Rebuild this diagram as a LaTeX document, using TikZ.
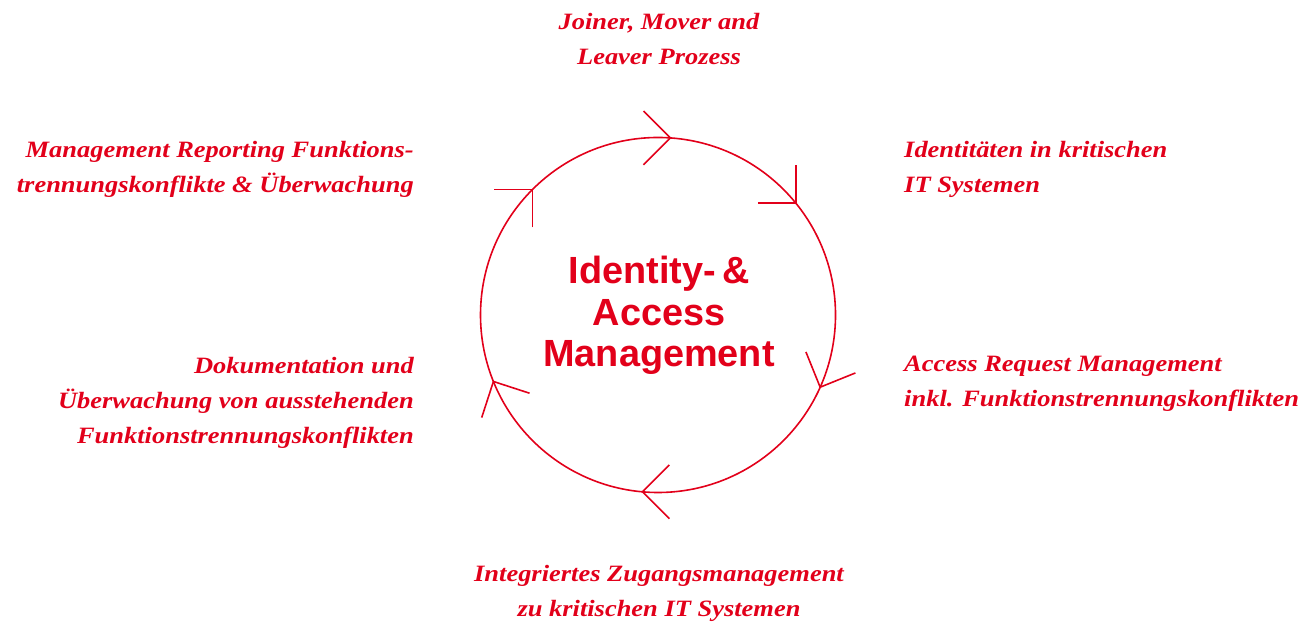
\documentclass[tikz,border=0pt]{standalone}
\usepackage{fontspec}
\setmainfont{Liberation Serif}
\newfontfamily\stepfont[FakeStretch=1.13]{Liberation Serif}
\newfontfamily\headfont{Liberation Sans}
\definecolor{brandred}{HTML}{E2001A}
\begin{document}
\begin{tikzpicture}[x=1bp,y=1bp,
  steplabel/.style={font=\stepfont\fontsize{23.5}{35.5}\selectfont\bfseries\itshape,
    text=brandred, inner sep=0pt},
  title/.style={font=\headfont\fontsize{38}{42}\selectfont\bfseries,
    text=brandred, inner sep=0pt, align=center},
  ringline/.style={draw=brandred, line width=1.6bp},
  chevron/.style={draw=brandred, line width=1.6bp, line join=miter}]
\useasboundingbox (0,0) rectangle (1303,624);

% cycle ring
\node[circle, ringline, minimum size=355bp, inner sep=0pt, outer sep=0pt]
  (ring) at (658,309) {};

% open chevrons on the ring, pointing clockwise
\foreach \tip/\back in {86/180, 39/135, -24/67, -95/0, 202/-63, 135/-135}{
  \draw[chevron] (ring.\tip) ++(\back+45:38) -- (ring.\tip) -- ++(\back-45:38);
}

% centre title (base = baseline of the last line)
\node[title, anchor=base] (core) at (659,257)
  {Identity-\,\&\\Access\\Management};

% process steps around the ring
\node[steplabel, anchor=base, align=center] (jml) at (659,559)
  {Joiner, Mover and\\Leaver Prozess};
\node[steplabel, anchor=base east, align=right] (report) at (414,431)
  {Management Reporting Funktions-\\trennungskonflikte \& Überwachung};
\node[steplabel, anchor=base west, align=left] (ident) at (904,431)
  {Identitäten in kritischen\\IT Systemen};
\node[steplabel, anchor=base east, align=right] (docu) at (414,180)
  {Dokumentation und\\Überwachung von ausstehenden\\Funktionstrennungskonflikten};
\node[steplabel, anchor=base west, align=left] (request) at (904,217)
  {Access Request Management\\inkl. Funktionstrennungskonflikten};
\node[steplabel, anchor=base, align=center] (access) at (659,7)
  {Integriertes Zugangsmanagement\\zu kritischen IT Systemen};
\end{tikzpicture}
\end{document}
